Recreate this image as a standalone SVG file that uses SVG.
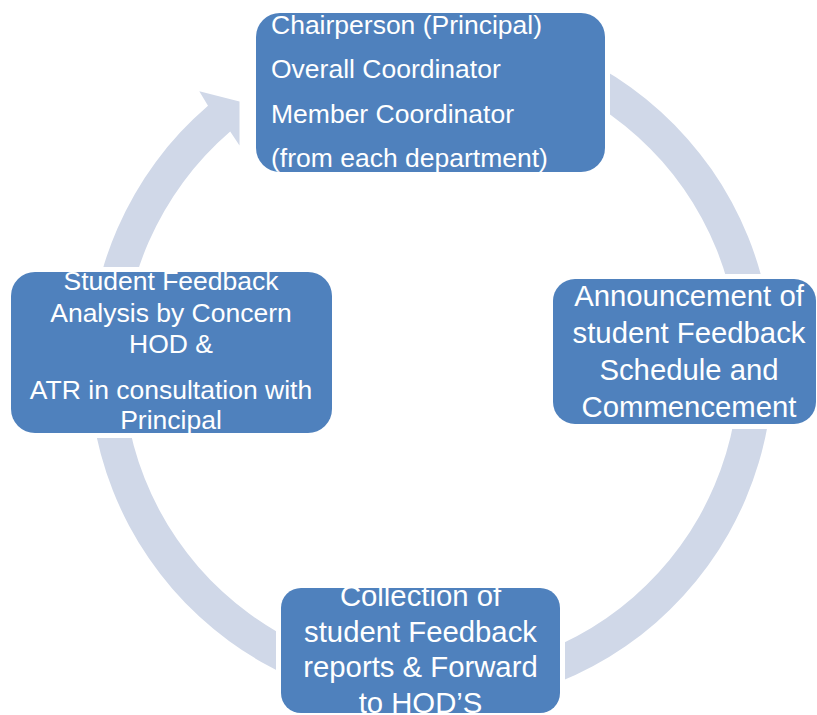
<svg xmlns="http://www.w3.org/2000/svg" width="817" height="715" viewBox="0 0 817 715">
<style>
.box{fill:#4F81BD;stroke:#FFFFFF;stroke-width:10;paint-order:stroke}
.t{font-family:"Liberation Sans",Arial,sans-serif;fill:#FFFFFF}
.s22{font-size:26.5px}
.s24{font-size:29.3px}
.c{text-anchor:middle}
.ring{fill:#D0D8E8}
</style>
<defs>
<clipPath id="cTop"><rect x="256" y="13" width="349" height="159" rx="24"/></clipPath>
<clipPath id="cLeft"><rect x="11" y="272" width="321" height="161" rx="24"/></clipPath>
<clipPath id="cRight"><rect x="553" y="279" width="263" height="145" rx="22"/></clipPath>
<clipPath id="cBottom"><rect x="281" y="588" width="279" height="125" rx="20"/></clipPath>
</defs>
<rect width="817" height="715" fill="#FFFFFF"/>
<g id="connectors">
<path class="ring" d="M 490.4 28.2 A 342 342 0 1 1 208.0 105.7 L 199.3 91.3 L 239.5 101.5 L 239.5 145.5 L 230.2 131.5 A 308 308 0 1 0 484.5 61.7 Z"/>
</g>
<g id="node-top">
<rect class="box" x="256" y="13" width="349" height="159" rx="24"/>
<g clip-path="url(#cTop)" class="t s22">
<text x="271" y="34">Chairperson (Principal)</text>
<text x="271" y="78">Overall Coordinator</text>
<text x="271" y="122.5">Member Coordinator</text>
<text x="271" y="166.5">(from each department)</text>
</g>
</g>
<g id="node-right">
<rect class="box" x="553" y="279" width="263" height="145" rx="22"/>
<g clip-path="url(#cRight)" class="t s24 c">
<text x="689" y="306">Announcement of</text>
<text x="689" y="342.5">student Feedback</text>
<text x="689" y="379.5">Schedule and</text>
<text x="689" y="416.5">Commencement</text>
</g>
</g>
<g id="node-bottom">
<rect class="box" x="281" y="588" width="279" height="125" rx="20"/>
<g clip-path="url(#cBottom)" class="t s24 c">
<text x="420.5" y="606">Collection of</text>
<text x="420.5" y="641.5">student Feedback</text>
<text x="420.5" y="677">reports &amp; Forward</text>
<text x="420.5" y="712.5">to HOD’S</text>
</g>
</g>
<g id="node-left">
<rect class="box" x="11" y="272" width="321" height="161" rx="24"/>
<g clip-path="url(#cLeft)" class="t s22 c">
<text x="171" y="289.5">Student Feedback</text>
<text x="171" y="321.5">Analysis by Concern</text>
<text x="171" y="352.5">HOD &amp;</text>
<text x="171" y="398.5">ATR in consultation with</text>
<text x="171" y="428.5">Principal</text>
</g>
</g>
</svg>
